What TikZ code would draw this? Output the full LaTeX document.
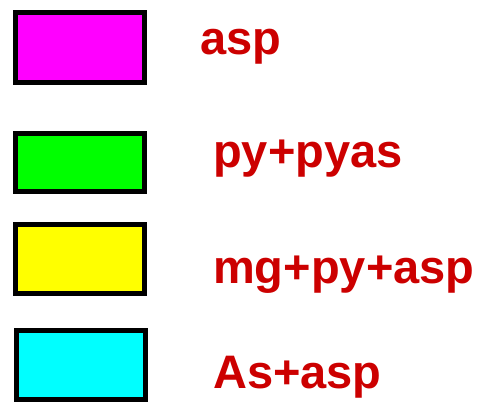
\documentclass[tikz,border=0pt]{standalone}
\usepackage{fontspec}
\setmainfont{Liberation Sans}
\usetikzlibrary{positioning}
\definecolor{lgred}{HTML}{CC0000}
\definecolor{lgmagenta}{HTML}{FF00FF}
\definecolor{lggreen}{HTML}{00FF00}
\definecolor{lgyellow}{HTML}{FFFF00}
\definecolor{lgcyan}{HTML}{00FFFF}
\begin{document}
\begin{tikzpicture}[x=1pt,y=-1pt,
  swatch/.style={rectangle,draw=black,line width=5pt,minimum width=129pt,
                 minimum height=70pt,inner sep=0pt},
  lbl/.style={anchor=base west,inner sep=0pt,text=lgred,
              font=\fontsize{47}{56}\selectfont\bfseries}
]
\useasboundingbox (0,0) rectangle (481,408);

% Colour swatches
\node[swatch,fill=lgmagenta]                    (s1) at (80,47.5)  {};
\node[swatch,fill=lggreen,minimum height=58pt]  (s2) at (80,162.5) {};
\node[swatch,fill=lgyellow,minimum height=69pt] (s3) at (80,259)   {};
\node[swatch,fill=lgcyan,minimum height=69pt]   (s4) at (81,365)   {};

% Labels
\node[lbl] (l1) at (200,54)  {asp};
\node[lbl] (l2) at (213,167) {py+pyas};
\node[lbl] (l3) at (213,283) {mg+py+asp};
\node[lbl] (l4) at (213,388) {As+asp};

\end{tikzpicture}
\end{document}
